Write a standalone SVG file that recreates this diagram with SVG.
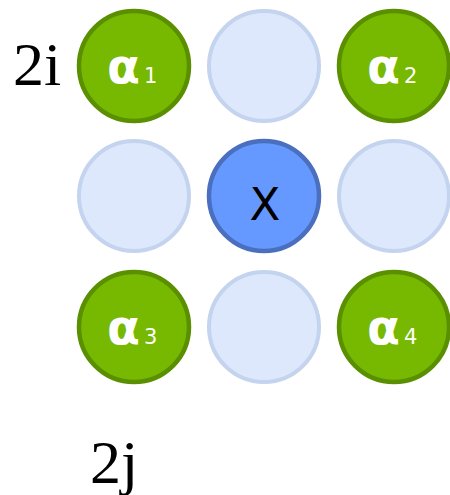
<svg xmlns="http://www.w3.org/2000/svg" width="450" height="495" viewBox="0 0 450 495">
<style>
.g{fill:#76b900;stroke:#5a8f00;stroke-width:4.5}
.l{fill:#dde8fc;stroke:#c4d3ee;stroke-width:4}
.b{fill:#6699ff;stroke:#4a6fbf;stroke-width:4.5}
.a{font-family:"DejaVu Sans",sans-serif;font-weight:bold;font-size:48px;fill:#fff}
.s{font-family:"DejaVu Sans",sans-serif;font-size:21px;fill:#fff}
.t{font-family:"Liberation Serif",serif;font-size:62px;fill:#000}
</style>
<rect width="450" height="495" fill="#fff"/>
<text class="t" x="13" y="85">2i</text>
<text class="t" x="90" y="483">2j</text>
<g id="a1"><circle class="g" cx="134" cy="66" r="55"/><text class="a" x="107" y="83">α</text><text class="s" x="144" y="83">1</text></g>
<g id="n12"><circle class="l" cx="264" cy="66" r="55"/></g>
<g id="a2"><circle class="g" cx="394" cy="66" r="55"/><text class="a" x="367" y="83">α</text><text class="s" x="404" y="83">2</text></g>
<g id="n21"><circle class="l" cx="134" cy="196" r="55"/></g>
<g id="x"><circle class="b" cx="264" cy="196" r="55"/><text x="265" y="220" text-anchor="middle" font-family="DejaVu Sans,sans-serif" font-size="45" fill="#000">X</text></g>
<g id="n23"><circle class="l" cx="394" cy="196" r="55"/></g>
<g id="a3"><circle class="g" cx="134" cy="327" r="55"/><text class="a" x="107" y="344">α</text><text class="s" x="144" y="344">3</text></g>
<g id="n32"><circle class="l" cx="264" cy="327" r="55"/></g>
<g id="a4"><circle class="g" cx="394" cy="327" r="55"/><text class="a" x="367" y="344">α</text><text class="s" x="404" y="344">4</text></g>
<g id="connectors"></g>
</svg>
